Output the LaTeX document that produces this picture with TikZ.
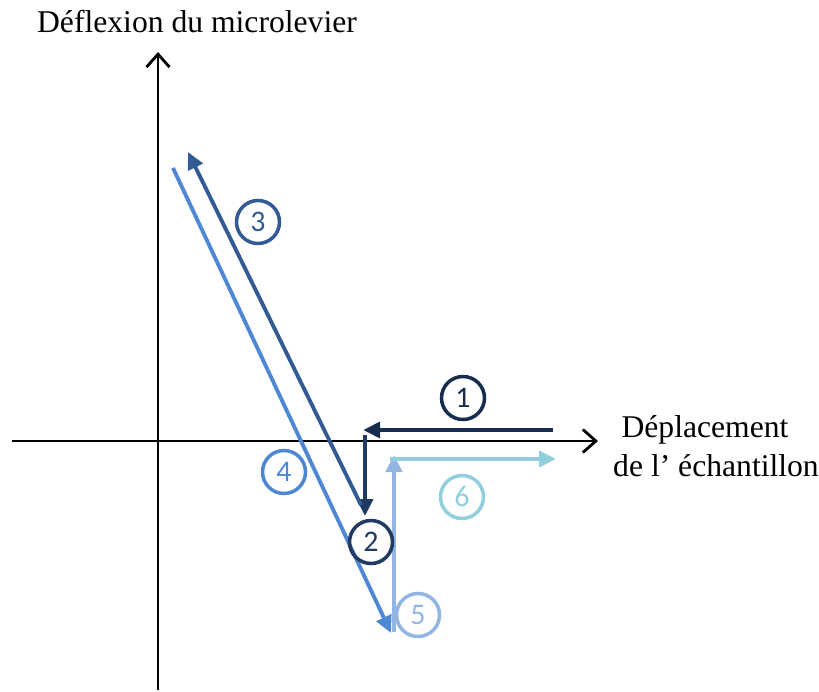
\documentclass[tikz,border=0pt]{standalone}
\usepackage{fontspec}
\setmainfont{Liberation Serif}
\newfontfamily\stepfont{Carlito}
\usetikzlibrary{arrows.meta,positioning}
\definecolor{navy}{RGB}{24,44,78}
\definecolor{marine}{RGB}{33,58,98}
\definecolor{steel}{RGB}{50,90,148}
\definecolor{cornflower}{RGB}{78,136,212}
\definecolor{sky}{RGB}{145,182,228}
\definecolor{aqua}{RGB}{146,206,222}
\tikzset{
  axis/.style={line width=1.6pt,-{Straight Barb[length=2.6mm,width=4.6mm,line width=1.6pt]}},
  trajet/.style={line width=2.2pt,draw=#1,-{Triangle[length=3.4mm,width=3.2mm]}},
  trajet/.default=navy,
  stepnum/.style={circle,draw=#1,text=#1,line width=2pt,minimum size=8.6mm,
    inner sep=0pt,font=\stepfont\fontsize{17}{17}\selectfont},
  stepnum/.default=navy,
  axis label/.style={font=\fontsize{18}{21}\selectfont},
}

\begin{document}
\begin{tikzpicture}[x=0.2mm,y=-0.2mm]
  \useasboundingbox (0,0) rectangle (819,692);
  % axes
  \coordinate (ybot) at (158,690);
  \coordinate (ytop) at (158,52);
  \coordinate (xleft) at (12,441);
  \coordinate (xright) at (598,441);
  \draw[axis] (ybot) -- (ytop);
  \draw[axis] (xleft) -- (xright);
  \node[axis label] (ylab) at (197,22) {Déflexion du microlevier};
  \node[axis label] (xlab) at (705,430) {Déplacement};
  \node[axis label] (xlab2) at (716,466) {de l’ échantillon};
  % cycle approche / retrait
  \coordinate (p1) at (553,430);
  \coordinate (p2) at (365,430);
  \coordinate (p3) at (365,516);
  \coordinate (p4) at (361,505);
  \coordinate (p5) at (188,152);
  \coordinate (p6) at (173,168);
  \coordinate (p7) at (391,633);
  \coordinate (p8) at (394,632);
  \coordinate (p9) at (394,455);
  \coordinate (p10) at (394,459);
  \coordinate (p11) at (556,459);
  \draw[trajet=navy] (p1) -- ([xshift=-1]p2);
  \draw[trajet=marine] ([yshift=-3]p2) -- (p3);
  \draw[trajet=steel] (p4) -- (p5);
  \draw[trajet=cornflower] (p6) -- (p7);
  \draw[trajet=sky,line width=2.6pt] (p8) -- (p9);
  \draw[trajet=aqua] ([xshift=-2]p10) -- (p11);
  \foreach \n/\c/\x/\y in {1/navy/463/398,2/marine/371/542,3/steel/258/222,
    4/cornflower/284/472,5/sky/418/615,6/aqua/462/497}
    \node[stepnum=\c] (n\n) at (\x,\y) {\n};
\end{tikzpicture}
\end{document}
